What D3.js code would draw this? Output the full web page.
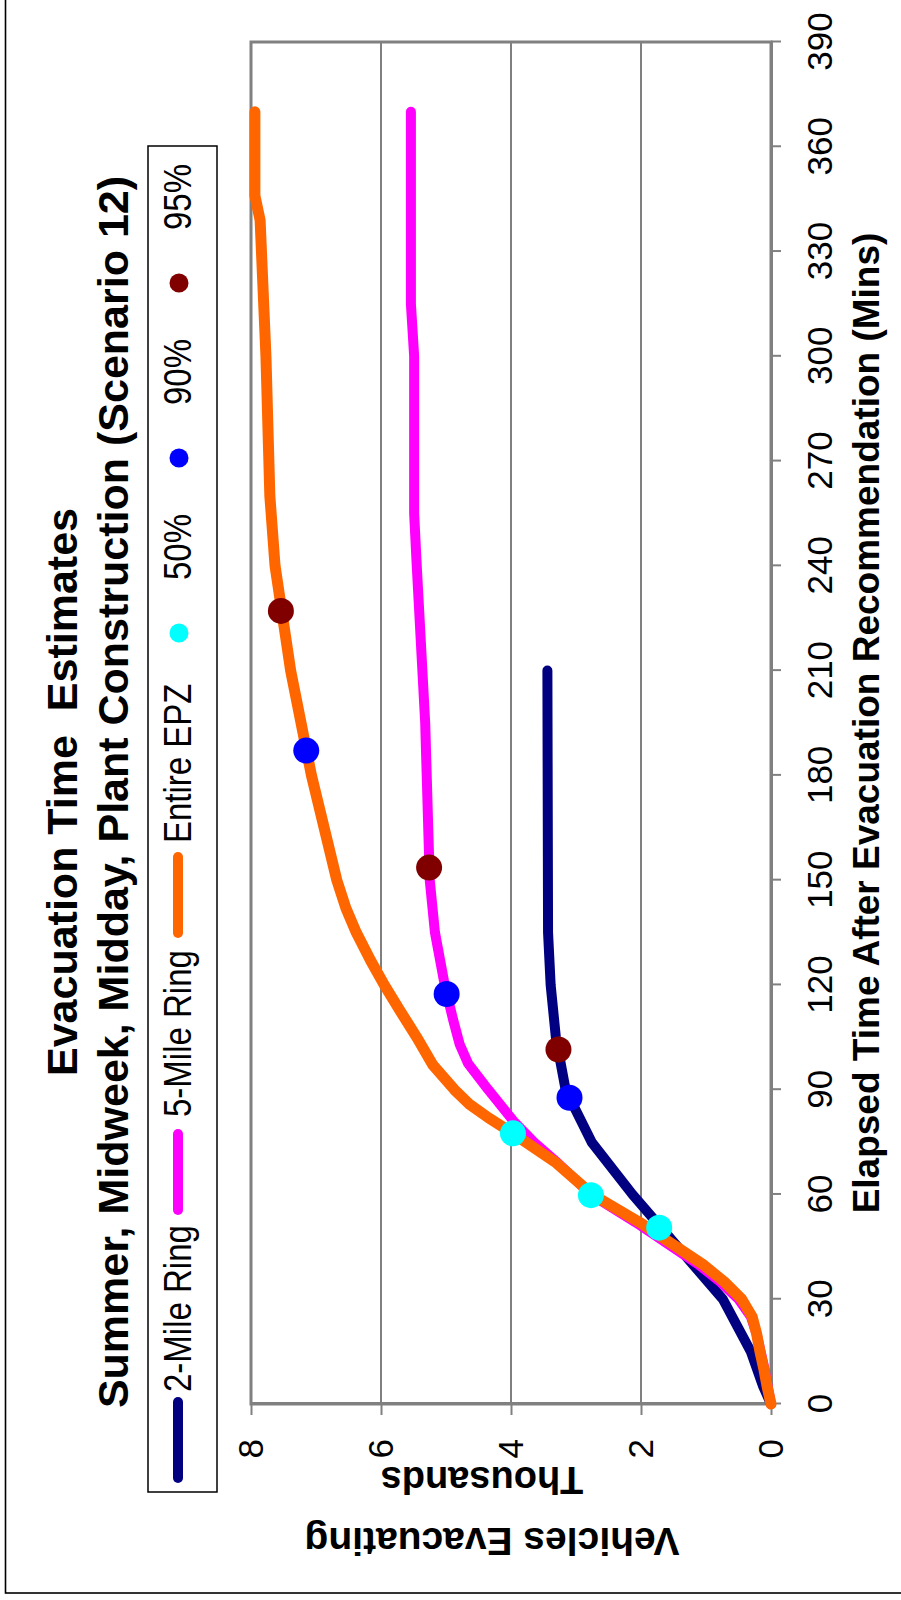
<!DOCTYPE html>
<html>
<head>
<meta charset="utf-8">
<script src="https://cdn.jsdelivr.net/npm/d3@7"></script>
<style>
  html, body { margin: 0; padding: 0; background: #fff; }
  svg { display: block; }
  text { font-family: "Liberation Sans", Arial, Helvetica, sans-serif; }
</style>
</head>
<body>
<svg id="chart" width="901" height="1600"></svg>
<script>
// ---------- data ----------
const timeTicks = [0, 30, 60, 90, 120, 150, 180, 210, 240, 270, 300, 330, 360, 390];
const valueTicks = [0, 2, 4, 6, 8];

const seriesNames = ["2-Mile Ring", "5-Mile Ring", "Entire EPZ"];
const seriesColors = ["#000080", "#FF00FF", "#FF6600"];

const ring2Times  = [0, 5, 15, 30, 60, 75, 90, 105, 120, 135, 210];
const ring2Values = [0, 0.12, 0.31, 0.74, 2.13, 2.76, 3.16, 3.31, 3.39, 3.43, 3.44];

const ring5Times  = [0, 5, 10, 15, 20, 25, 30, 35, 40, 52, 60, 69, 75, 81, 90, 97.5, 103, 110, 120, 135, 150, 195, 240, 255, 300, 315, 370];
const ring5Values = [0, 0.05, 0.10, 0.16, 0.22, 0.31, 0.50, 0.78, 1.12, 2.08, 2.77, 3.28, 3.65, 3.96, 4.35, 4.66, 4.79, 4.89, 5.02, 5.17, 5.25, 5.32, 5.45, 5.49, 5.49, 5.54, 5.54];

const epzTimes  = [0, 5, 10, 15, 20, 25, 30, 35, 40, 52, 60, 69, 77.5, 82, 86, 90, 97, 105, 113, 120, 127, 135, 142, 150, 180, 210, 240, 260, 300, 339, 346, 370];
const epzValues = [0, 0.06, 0.11, 0.17, 0.22, 0.29, 0.45, 0.72, 1.05, 2.02, 2.75, 3.30, 3.97, 4.35, 4.65, 4.87, 5.20, 5.45, 5.72, 5.95, 6.16, 6.38, 6.54, 6.68, 7.07, 7.39, 7.63, 7.71, 7.77, 7.86, 7.94, 7.94];

const markerNames = ["50%", "90%", "95%"];
const markerColors = ["#00FFFF", "#0000FF", "#800000"];
const pct50Times  = [50.5, 59.8, 77.5];
const pct50Values = [1.72, 2.77, 3.97];
const pct90Times  = [87.7, 117.4, 187.1];
const pct90Values = [3.10, 4.99, 7.15];
const pct95Times  = [101.5, 153.6, 227.1];
const pct95Values = [3.27, 5.26, 7.54];

const titleLines = ["Evacuation Time  Estimates", "Summer, Midweek, Midday, Plant Construction (Scenario 12)"];
const xTitle = "Elapsed Time After Evacuation Recommendation (Mins)";
const yTitleMain = "Vehicles Evacuating";
const yTitleUnit = "Thousands";

// ---------- drawing ----------
const zip = (ts, vs) => ts.map((t, i) => [t, vs[i]]);
const seriesData = [zip(ring2Times, ring2Values), zip(ring5Times, ring5Values), zip(epzTimes, epzValues)];
const markerData = [zip(pct50Times, pct50Values), zip(pct90Times, pct90Values), zip(pct95Times, pct95Values)];

const svg = d3.select("#chart");
svg.append("rect").attr("width", 901).attr("height", 1600).attr("fill", "#fff");

// whole chart is drawn landscape (1600 x 901) and rotated -90 degrees
const g = svg.append("g").attr("transform", "translate(0,1600) rotate(-90)");

// outer frame (partially cut off)
g.append("rect")
  .attr("x", 7).attr("y", 5.5).attr("width", 1700).attr("height", 1000)
  .attr("fill", "none").attr("stroke", "#000").attr("stroke-width", 1.6);

const x = d3.scaleLinear().domain([0, 390]).range([196, 1558]);
const y = d3.scaleLinear().domain([0, 8]).range([771, 251]);

// gridlines
g.append("g").selectAll("line")
  .data(valueTicks.filter(v => v > 0 && v < 8))
  .join("line")
  .attr("x1", x(0)).attr("x2", x(390))
  .attr("y1", d => y(d)).attr("y2", d => y(d))
  .attr("stroke", "#000").attr("stroke-width", 1);

// plot border
g.append("rect")
  .attr("x", x(0)).attr("y", y(8))
  .attr("width", x(390) - x(0)).attr("height", y(0) - y(8))
  .attr("fill", "none").attr("stroke", "#808080").attr("stroke-width", 3);

// axes
const xAxis = d3.axisBottom(x).tickValues(timeTicks).tickSize(10).tickSizeOuter(0).tickPadding(26);
const gx = g.append("g").attr("transform", `translate(0,${y(0)})`).call(xAxis);
const yAxis = d3.axisLeft(y).tickValues(valueTicks).tickSize(11).tickSizeOuter(0).tickPadding(24);
const gy = g.append("g").attr("transform", `translate(${x(0)},0)`).call(yAxis);
[gx, gy].forEach(a => {
  a.attr("font-family", null).attr("font-size", null);
  a.select(".domain").attr("stroke", "#808080").attr("stroke-width", 3);
  a.selectAll(".tick line").attr("stroke", "#808080").attr("stroke-width", 2);
  a.selectAll(".tick text").attr("font-size", 35).attr("fill", "#000");
});

// lines
const line = d3.line().x(d => x(d[0])).y(d => y(d[1]));
g.append("g").selectAll("path")
  .data(seriesData)
  .join("path")
  .attr("d", line)
  .attr("fill", "none")
  .attr("stroke", (d, i) => seriesColors[i])
  .attr("stroke-width", (d, i) => i === 2 ? 11 : 10)
  .attr("stroke-linecap", "round")
  .attr("stroke-linejoin", "round");

// percentile markers
markerData.forEach((pts, i) => {
  g.append("g").selectAll("circle")
    .data(pts)
    .join("circle")
    .attr("cx", d => x(d[0])).attr("cy", d => y(d[1]))
    .attr("r", 13)
    .attr("fill", markerColors[i]);
});

// titles
g.selectAll(".title")
  .data(titleLines)
  .join("text")
  .attr("class", "title")
  .attr("x", 808).attr("y", (d, i) => i === 0 ? 77 : 128)
  .attr("text-anchor", "middle")
  .attr("font-size", 43).attr("font-weight", "bold")
  .style("white-space", "pre")
  .text(d => d);

g.append("text")
  .attr("x", (x(0) + x(390)) / 2).attr("y", 879)
  .attr("text-anchor", "middle")
  .attr("font-size", 37).attr("font-weight", "bold")
  .text(xTitle);

g.append("text")
  .attr("transform", "translate(72,492) rotate(-90)")
  .attr("text-anchor", "middle")
  .attr("font-size", 39).attr("font-weight", "bold")
  .text(yTitleMain);

g.append("text")
  .attr("transform", "translate(133,482) rotate(-90)")
  .attr("text-anchor", "middle")
  .attr("font-size", 38).attr("font-weight", "bold")
  .text(yTitleUnit);

// legend
const leg = g.append("g");
leg.append("rect")
  .attr("x", 108).attr("y", 148).attr("width", 1346).attr("height", 69)
  .attr("fill", "#fff").attr("stroke", "#000").attr("stroke-width", 1.5);
const lineStarts = [122, 390, 667];
const lineTextStarts = [208, 483, 757];
seriesNames.forEach((name, i) => {
  leg.append("line")
    .attr("x1", lineStarts[i]).attr("x2", lineStarts[i] + 76)
    .attr("y1", 178).attr("y2", 178)
    .attr("stroke", seriesColors[i]).attr("stroke-width", 10)
    .attr("stroke-linecap", "round");
  leg.append("text")
    .attr("transform", `translate(${lineTextStarts[i]},191) scale(1,1.15)`)
    .attr("font-size", 33)
    .text(name);
});
const markerPos = [967, 1142, 1317];
const markerTextStarts = [1020, 1195, 1370];
markerNames.forEach((name, i) => {
  leg.append("circle")
    .attr("cx", markerPos[i]).attr("cy", 179).attr("r", 9.5)
    .attr("fill", markerColors[i]);
  leg.append("text")
    .attr("transform", `translate(${markerTextStarts[i]},191) scale(1,1.15)`)
    .attr("font-size", 33)
    .text(name);
});
</script>
</body>
</html>
